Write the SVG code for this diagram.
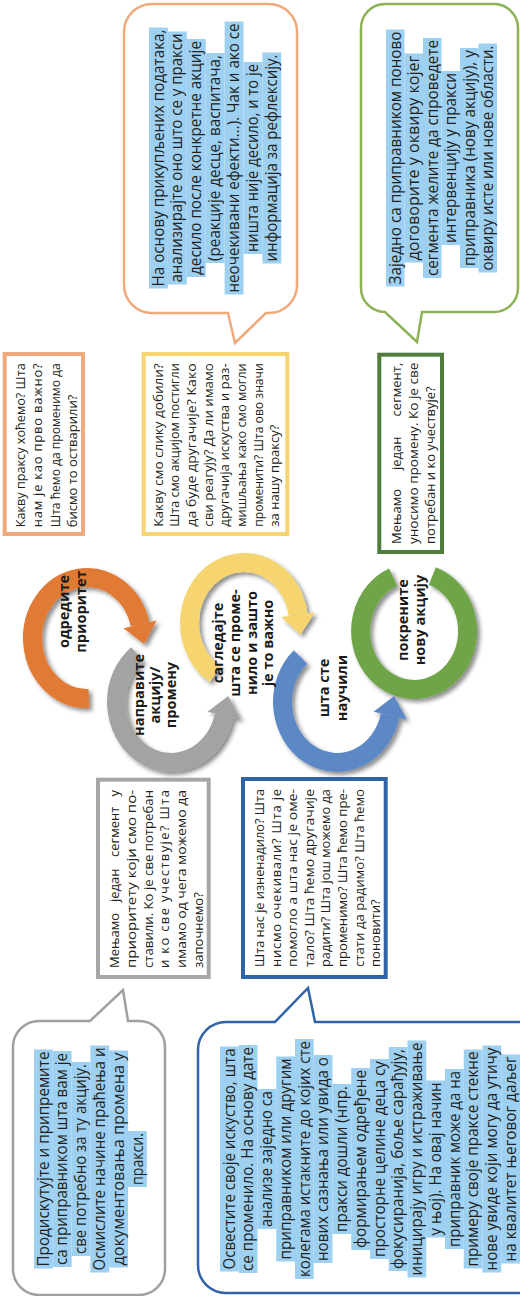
<svg xmlns="http://www.w3.org/2000/svg" width="520" height="1296" viewBox="0 0 520 1296">
<style>
.hl{fill:#9ed0f1}
.bt{font-family:'Open Sans','Noto Sans',sans-serif;font-size:16px;fill:#231f20;text-anchor:middle}
.xt{font-family:'Open Sans','Noto Sans',sans-serif;font-size:13px;fill:#231f20}
.xe{text-anchor:end}
.lb{font-family:'Open Sans','Noto Sans',sans-serif;font-size:14.5px;font-weight:700;fill:#1a1a1a;text-anchor:middle}
.box{fill:#fff;stroke-width:4}
.bub{fill:#fff;stroke-width:2.5;stroke-linejoin:miter}
.arc{fill:none;stroke-width:19}
</style>
<defs>
<filter id="sh" x="-20%" y="-20%" width="140%" height="140%">
<feDropShadow dx="3" dy="3" stdDeviation="2" flood-color="#000" flood-opacity="0.45"/>
</filter>
</defs>
<rect width="520" height="1296" fill="#fff"/>

<g id="connectors">
<g id="arc-orange" filter="url(#sh)">
<path class="arc" stroke="#e17a36" d="M 88.9 698.5 A 54.5 60.5 0 1 1 140.1 624.4"/>
<polygon fill="#e17a36" points="123.5,628.2 156.7,620.6 144.2,644"/>
</g>
<g id="arc-grey" filter="url(#sh)">
<path class="arc" stroke="#a3a3a3" d="M 137.4 654.3 A 54.5 60.5 0 1 0 224.1 715.6"/>
<polygon fill="#a3a3a3" points="207.5,711.8 240.7,719.4 228.2,696"/>
</g>
<g id="arc-yellow" filter="url(#sh)">
<path class="arc" stroke="#f6d46f" d="M 215.1 674.3 A 54.5 60.5 0 1 1 298 614.6"/>
<polygon fill="#f6d46f" points="281.1,616.9 314.8,612.2 300.5,634.4"/>
</g>
<g id="arc-green" filter="url(#sh)">
<path class="arc" stroke="#70a44a" stroke-width="18" d="M 432.3 576 A 53.5 58.5 0 1 1 393.1 577.2"/>
</g>
<g id="arc-blue" filter="url(#sh)">
<path class="arc" stroke="#5b88c6" d="M 300.5 657 A 54.5 60.5 0 1 0 390.1 715.6"/>
<polygon fill="#5b88c6" points="373.5,711.8 406.7,719.4 394.2,696"/>
</g>
</g>

<g id="labels-circles" transform="matrix(0 -1 1 0 0 1296)">
<g id="label-orange">
<text class="lb" x="684.5" y="69">одредите</text>
<text class="lb" x="684.5" y="86">приоритет</text>
</g>
<g id="label-grey">
<text class="lb" x="601" y="143.5">направите</text>
<text class="lb" x="601" y="159.5">акцију/</text>
<text class="lb" x="601" y="176">промену</text>
</g>
<g id="label-yellow">
<text class="lb" x="653" y="223">сагледајте</text>
<text class="lb" x="653" y="240">шта се проме-</text>
<text class="lb" x="653" y="256.5">нило и зашто</text>
<text class="lb" x="653" y="273">је то важно</text>
</g>
<g id="label-blue">
<text class="lb" x="608" y="329">шта сте</text>
<text class="lb" x="608" y="346.5">научили</text>
</g>
<g id="label-green">
<text class="lb" x="676" y="408">покрените</text>
<text class="lb" x="676" y="425">нову акцију</text>
</g>
</g>

<g id="box-orange">
<rect class="box" stroke="#efa97b" x="4.7" y="354" width="78.3" height="180"/>
<g transform="matrix(0 -1 1 0 0 1296)">
<text class="xt" x="768.7" y="25" textLength="164" lengthAdjust="spacingAndGlyphs">Какву праксу хоћемо? Шта</text>
<text class="xt" x="768.7" y="42.3" textLength="164" lengthAdjust="spacing">нам је као прво важно?</text>
<text class="xt" x="768.7" y="59.6" textLength="164" lengthAdjust="spacingAndGlyphs">Шта ћемо да променимо да</text>
<text class="xt" x="768.7" y="76.9">бисмо то остварили?</text>
</g>
</g>

<g id="box-yellow">
<rect class="box" stroke="#f6d46f" x="143.7" y="354" width="143.6" height="180"/>
<g transform="matrix(0 -1 1 0 0 1296)">
<text class="xt" x="769.3" y="162.5" textLength="163.4" lengthAdjust="spacingAndGlyphs">Какву смо слику добили?</text>
<text class="xt" x="769.3" y="179.2" textLength="163.4" lengthAdjust="spacingAndGlyphs">Шта смо акцијом постигли</text>
<text class="xt" x="769.3" y="195.9" textLength="163.4" lengthAdjust="spacingAndGlyphs">да буде другачије? Како</text>
<text class="xt" x="769.3" y="212.6" textLength="163.4" lengthAdjust="spacingAndGlyphs">сви реагују? Да ли имамо</text>
<text class="xt" x="769.3" y="229.3" textLength="163.4" lengthAdjust="spacingAndGlyphs">другачија искуства и раз-</text>
<text class="xt" x="769.3" y="246" textLength="163.4" lengthAdjust="spacingAndGlyphs">мишљања како смо могли</text>
<text class="xt" x="769.3" y="262.7" textLength="163.4" lengthAdjust="spacingAndGlyphs">променити? Шта ово значи</text>
<text class="xt" x="769.3" y="279.4">за нашу праксу?</text>
</g>
</g>

<g id="box-green">
<rect class="box" stroke="#507d3a" x="379.3" y="354.7" width="62.7" height="197.3"/>
<g transform="matrix(0 -1 1 0 0 1296)">
<text class="xt" x="752" y="401">Мењамо</text>
<text class="xt" x="826" y="401">један</text>
<text class="xt xe" x="933.3" y="401">сегмент,</text>
<text class="xt" x="752" y="418.1" textLength="181.3" lengthAdjust="spacingAndGlyphs">уносимо промену. Ко је све</text>
<text class="xt" x="752" y="435.2">потребан и ко учествује?</text>
</g>
</g>

<g id="box-grey">
<rect class="box" stroke="#a6a6a6" x="98" y="779.7" width="110.7" height="197.3"/>
<g transform="matrix(0 -1 1 0 0 1296)">
<text class="xt" x="328" y="119">Мењамо</text>
<text class="xt" x="394" y="119">један</text>
<text class="xt" x="439" y="119">сегмент</text>
<text class="xt xe" x="506" y="119">у</text>
<text class="xt" x="328" y="135.8" textLength="178" lengthAdjust="spacingAndGlyphs">приоритету који смо по-</text>
<text class="xt" x="328" y="152.6" textLength="178" lengthAdjust="spacingAndGlyphs">ставили. Ко је све потребан</text>
<text class="xt" x="328" y="169.4" textLength="178" lengthAdjust="spacing">и ко све учествује? Шта</text>
<text class="xt" x="328" y="186.2" textLength="178" lengthAdjust="spacingAndGlyphs">имамо од чега можемо да</text>
<text class="xt" x="328" y="203">започнемо?</text>
</g>
</g>

<g id="box-blue">
<rect class="box" stroke="#2f63a8" x="243" y="779" width="142.7" height="198"/>
<g transform="matrix(0 -1 1 0 0 1296)">
<text class="xt" x="329" y="264" textLength="178" lengthAdjust="spacingAndGlyphs">Шта нас је изненадило? Шта</text>
<text class="xt" x="329" y="280.6" textLength="178" lengthAdjust="spacing">нисмо очекивали? Шта је</text>
<text class="xt" x="329" y="297.2" textLength="178" lengthAdjust="spacingAndGlyphs">помогло а шта нас је оме-</text>
<text class="xt" x="329" y="313.8" textLength="178" lengthAdjust="spacingAndGlyphs">тало? Шта ћемо другачије</text>
<text class="xt" x="329" y="330.4" textLength="178" lengthAdjust="spacingAndGlyphs">радити? Шта још можемо да</text>
<text class="xt" x="329" y="347" textLength="178" lengthAdjust="spacingAndGlyphs">променимо? Шта ћемо пре-</text>
<text class="xt" x="329" y="363.6" textLength="178" lengthAdjust="spacingAndGlyphs">стати да радимо? Шта ћемо</text>
<text class="xt" x="329" y="380.2">поновити?</text>
</g>
</g>

<g id="bubble-orange">
<path class="bub" stroke="#efa97b" d="M 152 4 L 269 4 A 28 28 0 0 1 297 32 L 297 285 A 28 28 0 0 1 269 313 L 266 313 L 235 343 L 228 313 L 152 313 A 28 28 0 0 1 124 285 L 124 32 A 28 28 0 0 1 152 4 Z"/>
<g transform="matrix(0 -1 1 0 0 1296)">
<rect class="hl" x="1007.5" y="149" width="261" height="18.9"/>
<rect class="hl" x="1011.5" y="167.9" width="253" height="18.9"/>
<rect class="hl" x="1019" y="186.8" width="238" height="18.9"/>
<rect class="hl" x="1033" y="205.7" width="210" height="18.9"/>
<rect class="hl" x="1001.5" y="224.6" width="273" height="18.9"/>
<rect class="hl" x="1042" y="243.5" width="192" height="18.9"/>
<rect class="hl" x="1032.5" y="262.4" width="211" height="18.9"/>
<text class="bt" x="1138" y="163.5" textLength="257" lengthAdjust="spacingAndGlyphs">На основу прикупљених података,</text>
<text class="bt" x="1138" y="182.4" textLength="249" lengthAdjust="spacingAndGlyphs">анализирајте оно што се у пракси</text>
<text class="bt" x="1138" y="201.3" textLength="234" lengthAdjust="spacingAndGlyphs">десило после конкретне акције</text>
<text class="bt" x="1138" y="220.2" textLength="206" lengthAdjust="spacingAndGlyphs">(реакције десце, васпитача,</text>
<text class="bt" x="1138" y="239.1" textLength="269" lengthAdjust="spacingAndGlyphs">неочекивани ефекти...). Чак и ако се</text>
<text class="bt" x="1138" y="258" textLength="188" lengthAdjust="spacingAndGlyphs">ништа није десило, и то је</text>
<text class="bt" x="1138" y="276.9" textLength="207" lengthAdjust="spacingAndGlyphs">информација за рефлексију.</text>
</g>
</g>

<g id="bubble-green">
<path class="bub" stroke="#8db155" d="M 385 4 L 494 4 A 24 24 0 0 1 518 28 L 518 288 A 24 24 0 0 1 494 312 L 422 312 L 417 342 L 385 312 A 24 24 0 0 1 361 288 L 361 28 A 24 24 0 0 1 385 4 Z"/>
<g transform="matrix(0 -1 1 0 0 1296)">
<rect class="hl" x="1009.5" y="386" width="257" height="18.5"/>
<rect class="hl" x="1033.5" y="404.5" width="209" height="18.5"/>
<rect class="hl" x="1018" y="423" width="240" height="18.5"/>
<rect class="hl" x="1051" y="441.5" width="174" height="18.5"/>
<rect class="hl" x="1028" y="460" width="220" height="18.5"/>
<rect class="hl" x="1023.5" y="478.5" width="229" height="18.5"/>
<text class="bt" x="1138" y="400.5" textLength="253" lengthAdjust="spacingAndGlyphs">Заједно са приправником поново</text>
<text class="bt" x="1138" y="419" textLength="205" lengthAdjust="spacingAndGlyphs">договорите у оквиру којег</text>
<text class="bt" x="1138" y="437.5" textLength="236" lengthAdjust="spacingAndGlyphs">сегмента желите да спроведете</text>
<text class="bt" x="1138" y="456" textLength="170" lengthAdjust="spacingAndGlyphs">интервенцију у пракси</text>
<text class="bt" x="1138" y="474.5" textLength="216" lengthAdjust="spacingAndGlyphs">приправника (нову акцију), у</text>
<text class="bt" x="1138" y="493" textLength="225" lengthAdjust="spacingAndGlyphs">оквиру исте или нове области.</text>
</g>
</g>

<g id="bubble-grey">
<path class="bub" stroke="#a0a0a0" d="M 39 1021 L 90 1021 L 123 990 L 128 1021 L 139 1021 A 26 26 0 0 1 165 1047 L 165 1269 A 26 26 0 0 1 139 1295 L 39 1295 A 26 26 0 0 1 13 1269 L 13 1047 A 26 26 0 0 1 39 1021 Z"/>
<g transform="matrix(0 -1 1 0 0 1296)">
<rect class="hl" x="27.5" y="34" width="219" height="18.8"/>
<rect class="hl" x="29" y="52.8" width="216" height="18.8"/>
<rect class="hl" x="40" y="71.6" width="194" height="18.8"/>
<rect class="hl" x="23.5" y="90.4" width="227" height="18.8"/>
<rect class="hl" x="28.5" y="109.2" width="217" height="18.8"/>
<rect class="hl" x="109" y="128" width="56" height="18.8"/>
<text class="bt" x="137" y="48.5" textLength="215" lengthAdjust="spacingAndGlyphs">Продискутујте и припремите</text>
<text class="bt" x="137" y="67.3" textLength="212" lengthAdjust="spacingAndGlyphs">са приправником шта вам је</text>
<text class="bt" x="137" y="86.1" textLength="190" lengthAdjust="spacingAndGlyphs">све потребно за ту акцију.</text>
<text class="bt" x="137" y="104.9" textLength="223" lengthAdjust="spacingAndGlyphs">Осмислите начине праћења и</text>
<text class="bt" x="137" y="123.7" textLength="213" lengthAdjust="spacingAndGlyphs">документовања промена у</text>
<text class="bt" x="137" y="142.5" textLength="52" lengthAdjust="spacingAndGlyphs">пракси.</text>
</g>
</g>

<g id="bubble-blue">
<path class="bub" stroke="#2f63a8" d="M 226 1022 L 275 1022 L 308 988 L 315 1022 L 532 1022 A 28 28 0 0 1 560 1050 L 560 1265 A 28 28 0 0 1 532 1293 L 226 1293 A 28 28 0 0 1 198 1265 L 198 1050 A 28 28 0 0 1 226 1022 Z"/>
<g transform="matrix(0 -1 1 0 0 1296)">
<rect class="hl" x="24.5" y="220" width="225" height="18.75"/>
<rect class="hl" x="23" y="238.75" width="228" height="18.75"/>
<rect class="hl" x="67" y="257.5" width="140" height="18.75"/>
<rect class="hl" x="34.5" y="276.25" width="205" height="18.75"/>
<rect class="hl" x="17" y="295" width="240" height="18.75"/>
<rect class="hl" x="33" y="313.75" width="208" height="18.75"/>
<rect class="hl" x="62" y="332.5" width="150" height="18.75"/>
<rect class="hl" x="46" y="351.25" width="182" height="18.75"/>
<rect class="hl" x="37" y="370" width="200" height="18.75"/>
<rect class="hl" x="25" y="388.75" width="224" height="18.75"/>
<rect class="hl" x="18.5" y="407.5" width="237" height="18.75"/>
<rect class="hl" x="58.5" y="426.25" width="157" height="18.75"/>
<rect class="hl" x="47" y="445" width="180" height="18.75"/>
<rect class="hl" x="27.5" y="463.75" width="219" height="18.75"/>
<rect class="hl" x="23.5" y="482.5" width="227" height="18.75"/>
<rect class="hl" x="32.5" y="501.25" width="209" height="18.75"/>
<text class="bt" x="137" y="234.5" textLength="221" lengthAdjust="spacingAndGlyphs">Освестите своје искуство, шта</text>
<text class="bt" x="137" y="253.25" textLength="224" lengthAdjust="spacingAndGlyphs">се променило. На основу дате</text>
<text class="bt" x="137" y="272" textLength="136" lengthAdjust="spacingAndGlyphs">анализе заједно са</text>
<text class="bt" x="137" y="290.75" textLength="201" lengthAdjust="spacingAndGlyphs">приправником или другим</text>
<text class="bt" x="137" y="309.5" textLength="236" lengthAdjust="spacingAndGlyphs">колегама истакните до којих сте</text>
<text class="bt" x="137" y="328.25" textLength="204" lengthAdjust="spacingAndGlyphs">нових сазнања или увида о</text>
<text class="bt" x="137" y="347" textLength="146" lengthAdjust="spacingAndGlyphs">пракси дошли (нпр.</text>
<text class="bt" x="137" y="365.75" textLength="178" lengthAdjust="spacingAndGlyphs">формирањем одређене</text>
<text class="bt" x="137" y="384.5" textLength="196" lengthAdjust="spacingAndGlyphs">просторне целине деца су</text>
<text class="bt" x="137" y="403.25" textLength="220" lengthAdjust="spacingAndGlyphs">фокусиранија, боље сарађују,</text>
<text class="bt" x="137" y="422" textLength="233" lengthAdjust="spacingAndGlyphs">иницирају игру и истраживање</text>
<text class="bt" x="137" y="440.75" textLength="153" lengthAdjust="spacingAndGlyphs">у њој). На овај начин</text>
<text class="bt" x="137" y="459.5" textLength="176" lengthAdjust="spacingAndGlyphs">приправник може да на</text>
<text class="bt" x="137" y="478.25" textLength="215" lengthAdjust="spacingAndGlyphs">примеру своје праксе стекне</text>
<text class="bt" x="137" y="497" textLength="223" lengthAdjust="spacingAndGlyphs">нове увиде који могу да утичу</text>
<text class="bt" x="137" y="515.75" textLength="205" lengthAdjust="spacingAndGlyphs">на квалитет његовог даљег</text>
</g>
</g>
</svg>
